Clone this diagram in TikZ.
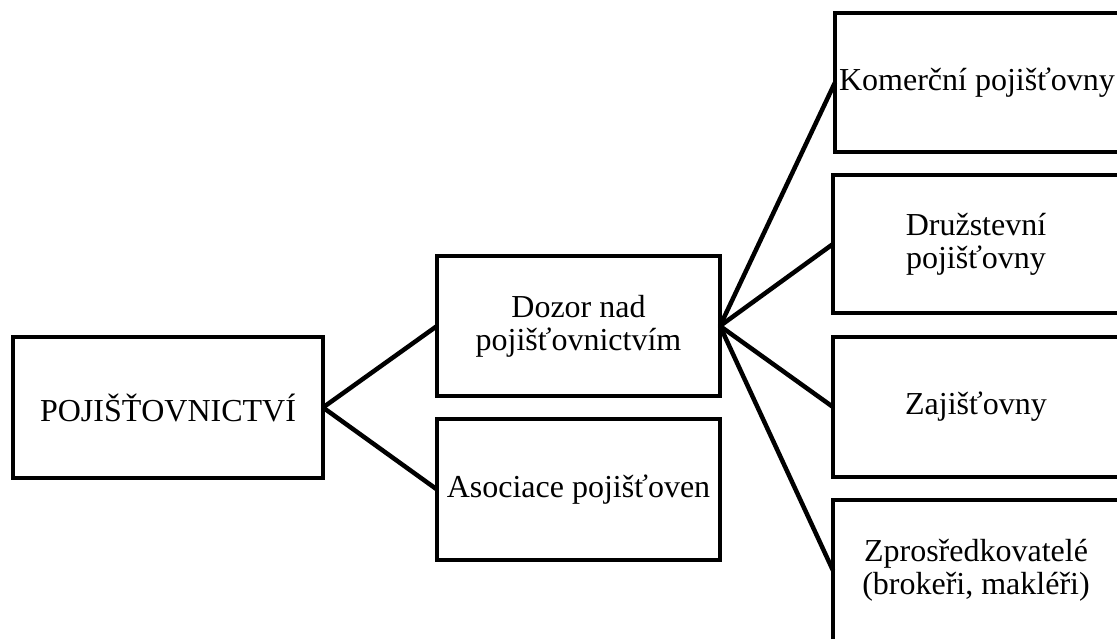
\documentclass[tikz,border=0pt]{standalone}
\usepackage{fontspec}
\setmainfont{Liberation Serif}
\begin{document}
\begin{tikzpicture}[x=1pt,y=-1pt,
  box/.style={draw, rectangle, line width=4.5pt, inner sep=0pt, outer sep=0pt,
    align=center, font=\fontsize{32}{33}\selectfont},
  link/.style={line width=4.5pt}]
\useasboundingbox (0,0) rectangle (1117,639);
\clip (0,0) rectangle (1117,639);

% left column
\node[box, minimum width=310pt, minimum height=141pt] (poj) at (168,407.5) {POJIŠŤOVNICTVÍ};

% middle column
\node[box, minimum width=283pt, minimum height=140pt] (dozor) at (578.5,326) {Dozor nad\\pojišťovnictvím};
\node[box, minimum width=283pt, minimum height=141pt] (asoc) at (578.5,489.5) {Asociace pojišťoven};

% right column
\node[box, minimum width=284pt, minimum height=139pt] (kom) at (977,82.5) {Komerční pojišťovny};
\node[box, minimum width=286pt, minimum height=138pt] (druz) at (976,244) {Družstevní\\pojišťovny};
\node[box, minimum width=286pt, minimum height=140pt] (zaj) at (976,407) {Zajišťovny};
\node[box, minimum width=286pt, minimum height=141pt] (zpro) at (976,570.5) {Zprosředkovatelé\\(brokeři, makléři)};

% connectors
\draw[link] (poj.east) -- (dozor.west);
\draw[link] (poj.east) -- (asoc.west);
\draw[link] (dozor.east) -- (kom.west);
\draw[link] (dozor.east) -- (druz.west);
\draw[link] (dozor.east) -- (zaj.west);
\draw[link] (dozor.east) -- (zpro.west);
\end{tikzpicture}
\end{document}
